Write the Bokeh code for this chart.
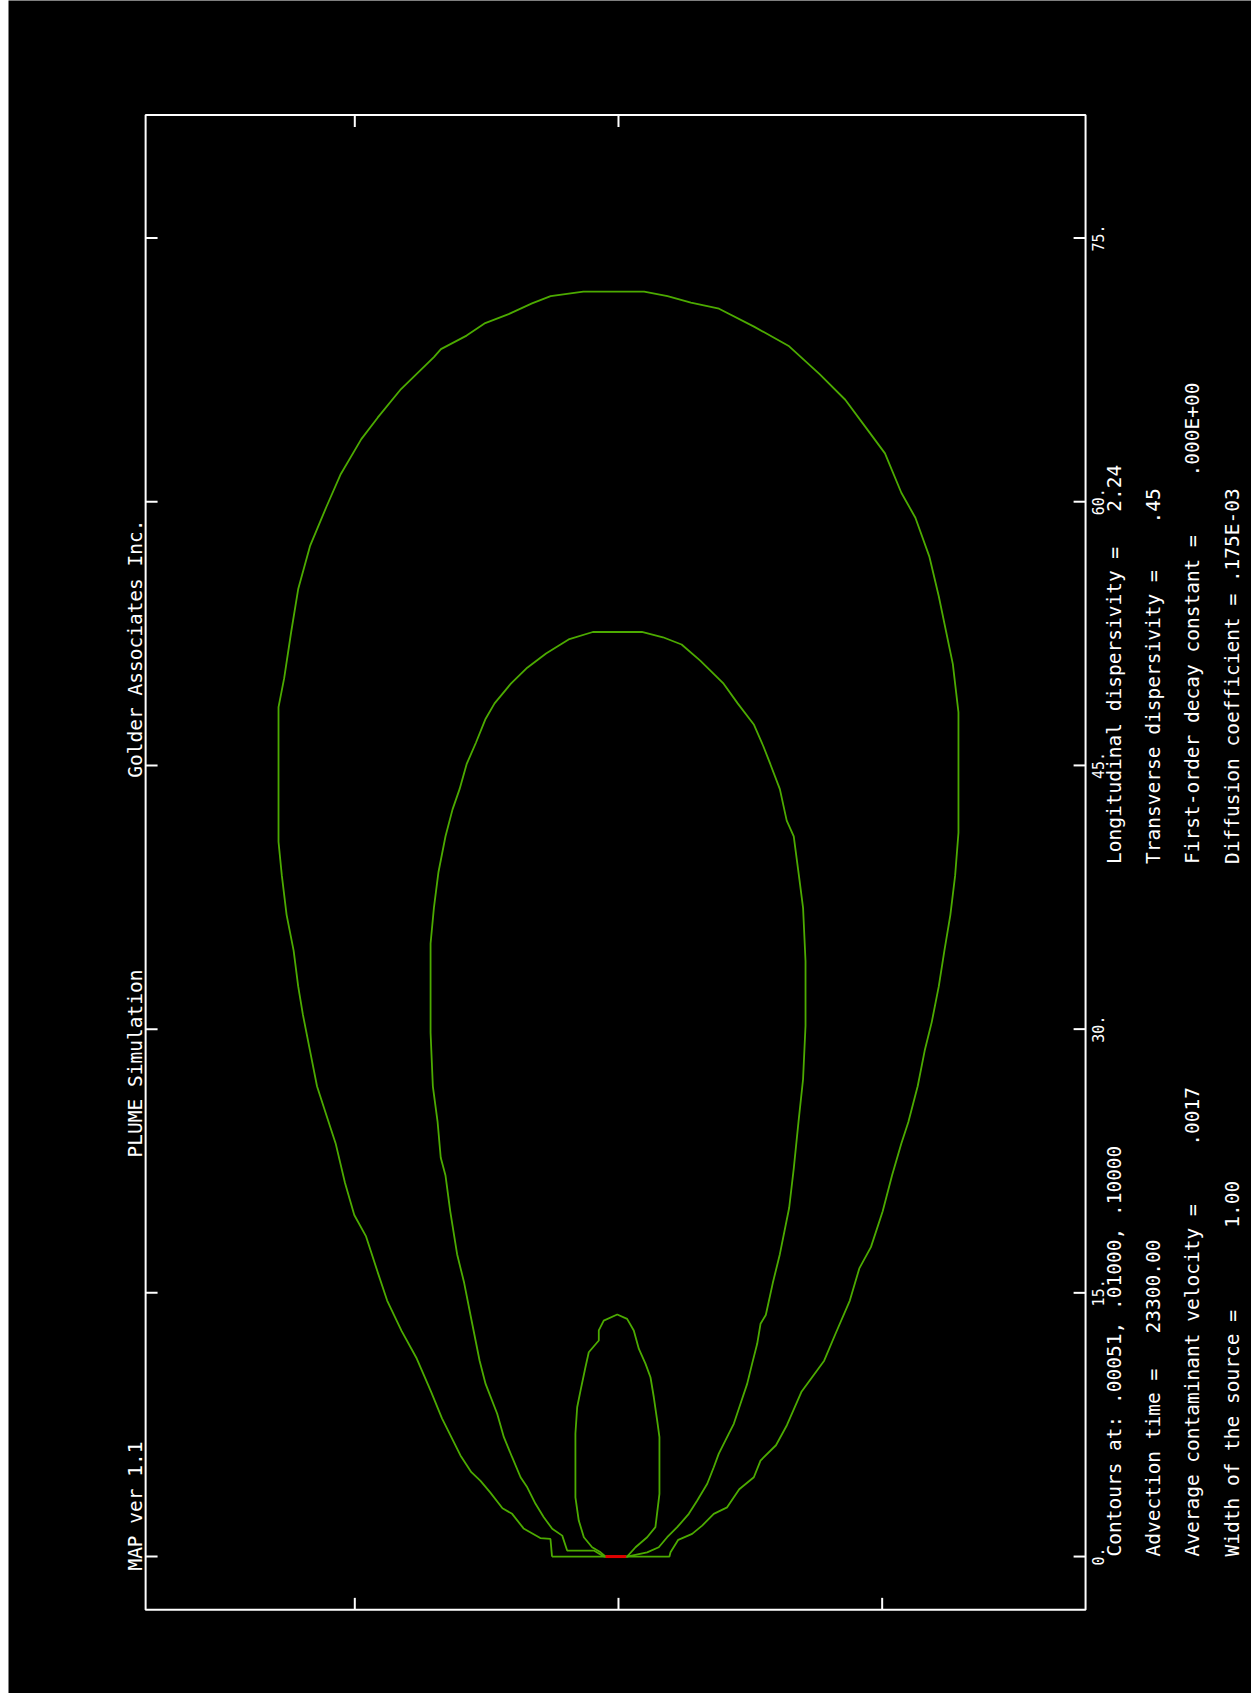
import re
from math import pi
from bokeh.plotting import figure
from bokeh.models import Range1d
from bokeh.core.properties import value
from bokeh.embed import file_html
from bokeh.resources import INLINE

# ---- data ----
# outer contour (.00051)
outer_x = [-3.78, -3.87, -4.45, -5.40, -6.05, -6.60, -7.30, -7.85, -8.37, -8.99, -10.04, -10.67, -11.50, -12.34,
           -13.16, -13.70, -14.36, -15.03, -15.56, -16.09, -16.62, -17.15, -17.55, -17.95, -18.22, -18.48, -18.88,
           -19.15, -19.34, -19.34, -19.02, -18.62, -18.22, -17.55, -16.62, -15.82, -14.63, -13.70, -12.37, -10.50,
           -10.10, -8.64, -7.58, -6.25, -4.92, -3.86, -2.00,
           1.46, 2.79, 4.12, 5.72, 7.71, 9.71, 11.44, 12.90, 13.96, 15.16, 16.09, 16.89, 17.69, 18.22, 19.02, 19.34,
           19.34, 19.15, 18.88, 18.54, 18.22, 17.82, 17.42, 17.02, 16.49, 16.09, 15.56, 15.03, 14.36, 13.70, 13.16,
           12.37, 11.70, 10.42, 9.58, 8.96, 8.08, 7.70, 6.87, 6.18, 5.42, 4.76, 4.19, 3.40, 2.96, 2.90, -3.78]
outer_y = [0.00, 1.00, 1.05, 1.60, 2.43, 2.75, 3.65, 4.30, 4.80, 5.75, 7.86, 9.39, 11.31, 12.84,
           14.56, 16.18, 18.21, 19.43, 21.26, 23.50, 25.12, 26.75, 28.78, 30.81, 32.43, 34.47, 36.50,
           38.73, 40.66, 48.32, 49.95, 52.59, 55.03, 57.47, 59.70, 61.53, 63.56, 64.78, 66.41, 68.23,
           68.68, 69.45, 70.16, 70.67, 71.28, 71.69, 71.95,
           71.95, 71.69, 71.32, 70.98, 69.96, 68.84, 67.26, 65.80, 64.37, 62.75, 60.51, 59.09, 56.86, 54.62, 50.76, 48.02,
           41.17, 38.73, 36.50, 34.47, 32.43, 30.40, 28.78, 26.75, 24.72, 23.50, 21.67, 19.64, 17.60, 16.39, 14.56,
           12.73, 11.14, 9.39, 7.47, 6.33, 5.46, 4.51, 3.83, 2.80, 2.43, 1.76, 1.29, 0.95, 0.24, 0.00, 0.00]

# middle contour (.01000)
middle_x = [-0.84, -1.40, -2.92, -3.20, -3.77, -4.25, -4.72, -5.19, -5.57, -6.05, -6.52, -6.90, -7.56, -7.90,
            -8.38, -8.78, -9.18, -9.57, -9.84, -10.11, -10.29, -10.56, -10.69, -10.69, -10.50, -10.24, -9.84,
            -9.44, -9.04, -8.64, -8.11, -7.58, -7.05, -6.12, -5.19, -4.12, -2.79, -1.46,
            1.33, 2.53, 3.59, 4.65, 5.98, 6.78, 7.71, 8.24, 8.64, 9.18, 9.57, 9.97, 10.29, 10.50, 10.64, 10.64,
            10.50, 10.24, 9.97, 9.71, 9.18, 8.78, 8.38, 8.08, 7.89, 7.60, 7.32, 6.94, 6.56, 6.27, 5.70, 5.42,
            5.05, 4.48, 4.00, 3.34, 2.77, 2.29, 1.63, 0.49, -0.84]
middle_y = [0.00, 0.34, 0.34, 1.19, 1.58, 2.24, 3.00, 3.94, 4.51, 5.65, 6.79, 8.12, 9.82, 11.14,
            13.54, 15.57, 17.20, 19.64, 21.67, 22.68, 24.72, 26.75, 29.79, 34.87, 36.90, 38.94, 40.97,
            42.50, 43.65, 45.07, 46.29, 47.61, 48.53, 49.65, 50.56, 51.37, 52.19, 52.59,
            52.59, 52.29, 51.88, 50.96, 49.65, 48.53, 47.31, 46.09, 45.07, 43.65, 41.86, 40.97, 38.53, 36.90, 33.86, 30.20,
            27.15, 24.72, 22.07, 19.84, 17.20, 15.57, 13.74, 13.24, 12.10, 10.96, 9.82, 8.69, 7.55, 6.98, 5.84, 5.08,
            4.14, 3.19, 2.43, 1.67, 1.10, 0.53, 0.24, 0.00, 0.00]

# inner contour (.10000)
inner_x = [-0.74, -1.02, -1.50, -1.97, -2.26, -2.45, -2.45, -2.35, -2.16, -1.88, -1.69, -1.12, -1.12, -0.84, -0.07,
           0.49, 0.87, 1.16, 1.54, 1.82, 2.01, 2.20, 2.33, 2.33, 2.10, 1.63, 0.97, 0.49, -0.74]
inner_y = [0.00, 0.24, 0.53, 1.10, 2.05, 3.37, 7.00, 8.49, 9.44, 10.77, 11.62, 12.29, 12.86, 13.42, 13.77,
           13.52, 12.86, 11.81, 10.96, 10.20, 9.06, 7.74, 6.79, 3.57, 1.67, 1.10, 0.53, 0.00, 0.00]

# line source (width 1.00)
source_x = [-0.74, 0.44]
source_y = [0.0, 0.0]

# plotting window (data units) and ticks
frame_x = [-26.90, 26.57]
frame_y = [-3.03, 81.99]
long_ticks = [0, 15, 30, 45, 60, 75]
long_labels = ["0.", "15.", "30.", "45.", "60.", "75."]
trans_ticks_bottom = [-15, 0, 15]
trans_ticks_top = [-15, 0]

# texts
title_texts = ["MAP ver 1.1", "PLUME Simulation", "Golder Associates Inc."]
title_starts = [-0.8, 22.7, 44.3]
info_left = ["Contours at: .00051, .01000, .10000",
             "Advection time =   23300.00",
             "Average contaminant velocity =     .0017",
             "Width of the source =       1.00"]
info_right = ["Longitudinal dispersivity =   2.24",
              "Transverse dispersivity =    .45",
              "First-order decay constant =     .000E+00",
              "Diffusion coefficient = .175E-03"]
info_start_left = 0.0
info_start_right = 39.4

# ---- styling / layout ----
FONT = "DejaVu Sans Mono"
FS = "19.5px"
FS_TICK = "15px"
GREEN = "#4caa00"
TICK = 0.68            # inner tick length (data units, ~12 px)
LEFT_COL = -27.50      # column centre of the left texts
LABEL_COL = 27.25      # column centre of the tick labels
INFO_COLS = [28.19, 30.43, 32.65, 34.92]


def keep_spaces(t):
    # runs of blanks would collapse in SVG text; keep them with no-break spaces
    return re.sub(r" {2,}", lambda m: " " + "\u00a0" * (len(m.group()) - 1), t)


p = figure(width=1251, height=1693, output_backend="svg", toolbar_location=None,
           x_range=Range1d(-34.70, 36.01), y_range=Range1d(-7.79, 88.51),
           x_axis_location=None, y_axis_location=None,
           min_border_left=8, min_border_right=0, min_border_top=0, min_border_bottom=0,
           background_fill_color="black", border_fill_color="white",
           outline_line_color=None)
p.xgrid.visible = False
p.ygrid.visible = False

# frame box
p.quad(left=frame_x[0], right=frame_x[1], bottom=frame_y[0], top=frame_y[1],
       fill_color=None, line_color="white", line_width=2)

# inner ticks on all four sides
n_b, n_t, n_l = len(trans_ticks_bottom), len(trans_ticks_top), len(long_ticks)
p.segment(x0=trans_ticks_bottom, x1=trans_ticks_bottom,
          y0=[frame_y[0]] * n_b, y1=[frame_y[0] + TICK] * n_b, line_color="white", line_width=2)
p.segment(x0=trans_ticks_top, x1=trans_ticks_top,
          y0=[frame_y[1]] * n_t, y1=[frame_y[1] - TICK] * n_t, line_color="white", line_width=2)
p.segment(x0=[frame_x[0]] * n_l, x1=[frame_x[0] + TICK] * n_l,
          y0=long_ticks, y1=long_ticks, line_color="white", line_width=2)
p.segment(x0=[frame_x[1]] * n_l, x1=[frame_x[1] - TICK] * n_l,
          y0=long_ticks, y1=long_ticks, line_color="white", line_width=2)

# tick labels (rotated, centred on the tick)
p.text(x=[LABEL_COL] * n_l, y=long_ticks, text=long_labels, angle=pi / 2,
       text_align="center", text_baseline="middle", text_color="white",
       text_font=value(FONT), text_font_size=value(FS_TICK))

# contours and source
for xs, ys in [(outer_x, outer_y), (middle_x, middle_y), (inner_x, inner_y)]:
    p.line(xs, ys, line_color=GREEN, line_width=1.8)
p.line(source_x, source_y, line_color="#e00000", line_width=3)

# header texts (left of the frame)
p.text(x=[LEFT_COL] * len(title_texts), y=title_starts, text=title_texts, angle=pi / 2,
       text_align="left", text_baseline="middle", text_color="white",
       text_font=value(FONT), text_font_size=value(FS))

# parameter texts (right of the frame)
p.text(x=INFO_COLS, y=[info_start_left] * 4, text=[keep_spaces(t) for t in info_left], angle=pi / 2,
       text_align="left", text_baseline="middle", text_color="white",
       text_font=value(FONT), text_font_size=value(FS))
p.text(x=INFO_COLS, y=[info_start_right] * 4, text=[keep_spaces(t) for t in info_right], angle=pi / 2,
       text_align="left", text_baseline="middle", text_color="white",
       text_font=value(FONT), text_font_size=value(FS))

open("out.html", "w").write(file_html(p, INLINE))
